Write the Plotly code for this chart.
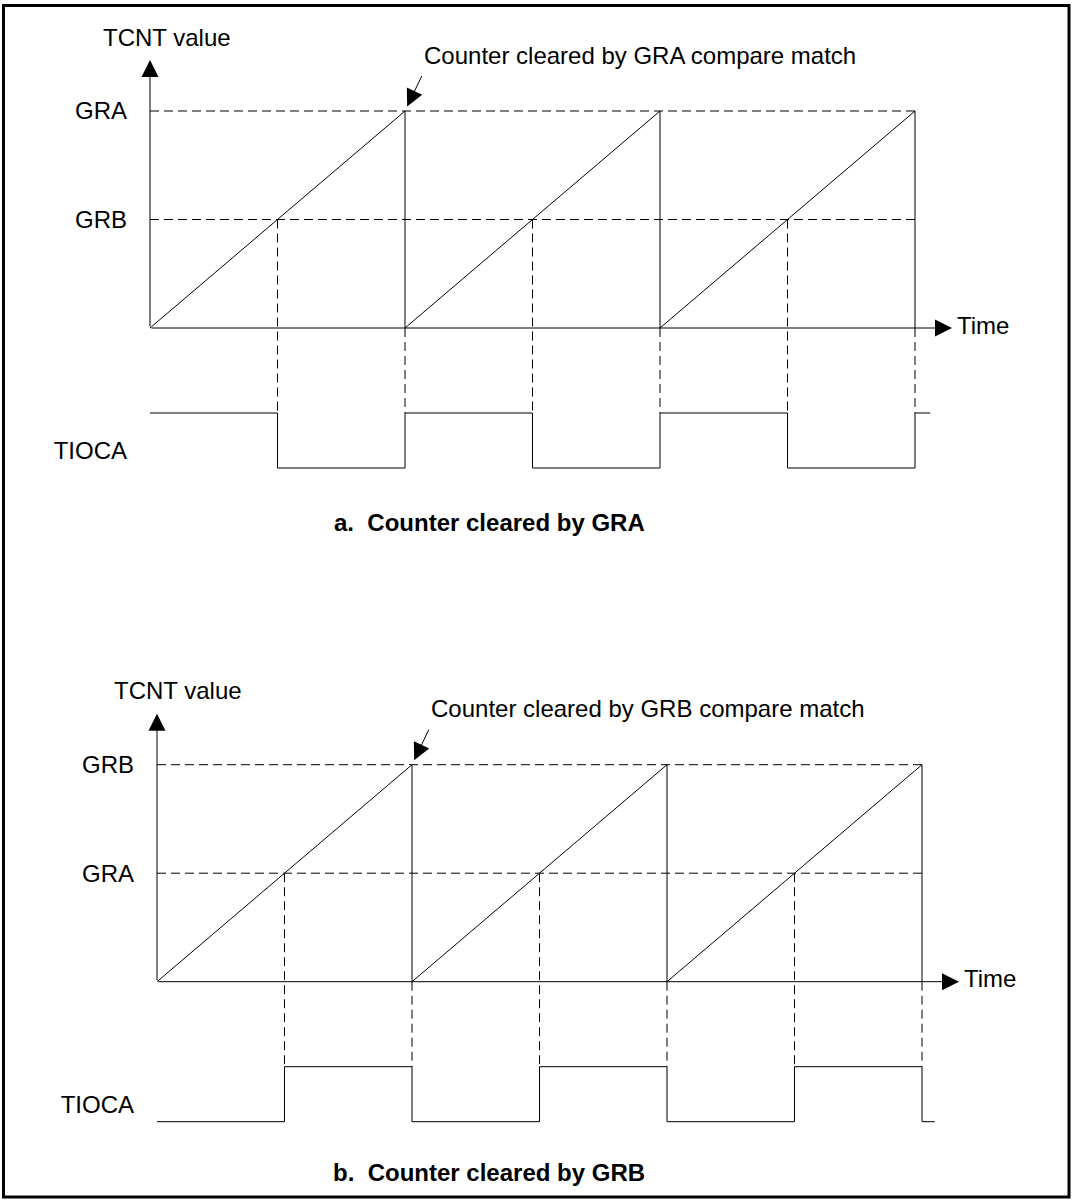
import plotly.graph_objects as go

W, H = 1074, 1200
FONT = "Arial, Liberation Sans, Helvetica, sans-serif"

# time in counter cycles, counter value relative to the clearing register
reset_times = [0, 1, 2, 3]
compare_times = [0.5, 1.5, 2.5]
clear_value = 1.0
compare_value = 0.5

tioca_a_times = [0, 0.5, 1, 1.5, 2, 2.5, 3, 3.06]
tioca_a_levels = [1, 0, 1, 0, 1, 0, 1, 1]
tioca_b_times = [0, 0.5, 1, 1.5, 2, 2.5, 3, 3.05]
tioca_b_levels = [0, 1, 0, 1, 0, 1, 0, 0]

labels_a = ["GRA", "GRB"]
labels_b = ["GRB", "GRA"]
callout_a = "Counter cleared by GRA compare match"
callout_b = "Counter cleared by GRB compare match"
caption_a = "a.\u00a0 Counter cleared by GRA"
caption_b = "b.\u00a0 Counter cleared by GRB"

# panel geometry in pixels
PX_T = 255      # px per cycle
PX_V = 217      # px per counter unit
panels = [
    dict(ox=150, oy=328, top=0, bottom=600, labels=labels_a, callout=callout_a,
         caption=caption_a, tt=tioca_a_times, tl=tioca_a_levels, cap_dy=194, tcnt_dx=-49),
    dict(ox=157, oy=981.7, top=600, bottom=1200, labels=labels_b, callout=callout_b,
         caption=caption_b, tt=tioca_b_times, tl=tioca_b_levels, cap_dy=191, tcnt_dx=-45),
]
T_END = 802 / PX_T          # tip of the time arrow
V_END = 268 / PX_V          # tip of the value arrow
TIOCA_HI = -85 / PX_V
TIOCA_LO = -140 / PX_V
TIOCA_LABEL = -123 / PX_V

line = dict(color="black", width=1)
dash = dict(color="black", width=1, dash="9px,5px")
HEAD = 3.4

fig = go.Figure()
annotations = []
layout_axes = {}

for i, p in enumerate(panels):
    sfx = "" if i == 0 else str(i + 1)
    xa, ya = "x" + sfx, "y" + sfx

    # dashed register levels
    hx, hy = [], []
    for v in [clear_value, compare_value]:
        hx += [reset_times[0], reset_times[-1], None]
        hy += [v, v, None]
    # dashed drop lines down to the output waveform
    vx, vy = [], []
    for t in compare_times:
        vx += [t, t, None]
        vy += [compare_value, TIOCA_HI, None]
    for t in reset_times[1:]:
        vx += [t, t, None]
        vy += [0, TIOCA_HI, None]
    fig.add_trace(go.Scatter(x=hx, y=hy, mode="lines", line=dash, xaxis=xa, yaxis=ya,
                             hoverinfo="skip", showlegend=False))
    fig.add_trace(go.Scatter(x=vx, y=vy, mode="lines", line=dash, xaxis=xa, yaxis=ya,
                             hoverinfo="skip", showlegend=False))

    # sawtooth of the counter
    sx, sy = [], []
    for a, b in zip(reset_times[:-1], reset_times[1:]):
        sx += [a, b, b]
        sy += [0, clear_value, 0]
    fig.add_trace(go.Scatter(x=sx, y=sy, mode="lines", line=line, xaxis=xa, yaxis=ya,
                             hoverinfo="skip", showlegend=False))

    # TIOCA output
    ty = [TIOCA_LO + lv * (TIOCA_HI - TIOCA_LO) for lv in p["tl"]]
    fig.add_trace(go.Scatter(x=p["tt"], y=ty, mode="lines", line=dict(color="black", width=1, shape="hv"),
                             xaxis=xa, yaxis=ya, hoverinfo="skip", showlegend=False))

    # axes as arrows
    for (x, y) in [(0, V_END), (T_END, 0)]:
        annotations.append(dict(x=x, y=y, ax=0, ay=0, xref=xa, yref=ya, axref=xa, ayref=ya,
                                text="", showarrow=True, arrowhead=2, arrowsize=HEAD,
                                arrowwidth=1, arrowcolor="black", standoff=0))
    annotations.append(dict(x=0, y=V_END, xref=xa, yref=ya, text="TCNT value", showarrow=False,
                            xanchor="left", yanchor="middle", xshift=p["tcnt_dx"], yshift=23,
                            font=dict(size=24, family=FONT, color="black")))
    annotations.append(dict(x=T_END, y=0, xref=xa, yref=ya, text="Time", showarrow=False,
                            xanchor="left", yanchor="middle", xshift=3, yshift=3,
                            font=dict(size=24, family=FONT, color="black")))
    # callout on the first clear
    annotations.append(dict(x=reset_times[1], y=clear_value, xref=xa, yref=ya, text="",
                            showarrow=True, ax=17.5, ay=-36.5, arrowhead=2, arrowsize=HEAD,
                            arrowwidth=1, arrowcolor="black", standoff=5))
    annotations.append(dict(x=reset_times[1], y=clear_value, xref=xa, yref=ya, text=p["callout"],
                            showarrow=False, xanchor="left", yanchor="middle", xshift=17, yshift=56,
                            font=dict(size=24, family=FONT, color="black")))
    annotations.append(dict(x=489 / W, y=1 - (p["oy"] + p["cap_dy"]) / H, xref="paper", yref="paper",
                            text="<b>" + p["caption"] + "</b>", showarrow=False,
                            xanchor="center", yanchor="middle",
                            font=dict(size=24, family=FONT, color="black")))

    # axis ranges so that the panel sits where the drawing puts it
    layout_axes["xaxis" + sfx] = dict(domain=[0, 1], range=[-p["ox"] / PX_T, (W - p["ox"]) / PX_T],
                                      visible=False, anchor=ya, fixedrange=True)
    layout_axes["yaxis" + sfx] = dict(
        domain=[1 - p["bottom"] / H, 1 - p["top"] / H],
        range=[(p["oy"] - p["bottom"]) / PX_V, (p["oy"] - p["top"]) / PX_V],
        anchor="free", position=(p["ox"] - 23) / W,
        showgrid=False, zeroline=False, showline=False, ticks="",
        tickvals=[clear_value, compare_value, TIOCA_LABEL],
        ticktext=p["labels"] + ["TIOCA"],
        tickfont=dict(size=24, family=FONT, color="black"),
        fixedrange=True,
    )

fig.update_layout(
    width=W, height=H,
    margin=dict(l=0, r=0, t=0, b=0),
    paper_bgcolor="white", plot_bgcolor="rgba(0,0,0,0)",
    showlegend=False,
    annotations=annotations,
    shapes=[dict(type="rect", xref="paper", yref="paper",
                 x0=3.5 / W, x1=1069 / W, y0=1 - 1197 / H, y1=1 - 5.5 / H,
                 line=dict(color="black", width=3))],
    **layout_axes,
)

# the page body has a default 8px margin; drop it so the figure fills the window
fig.write_html("out.html", config={"displayModeBar": False},
               post_script="document.body.style.margin='0';")
